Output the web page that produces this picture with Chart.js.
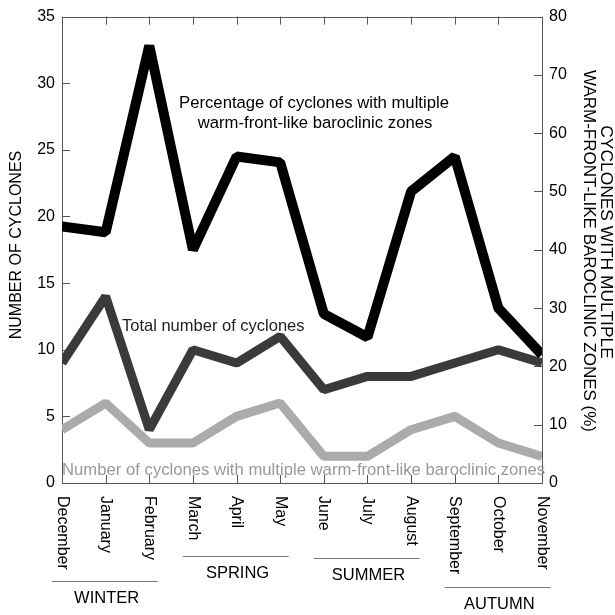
<!DOCTYPE html>
<html>
<head>
<meta charset="utf-8">
<script src="https://cdn.jsdelivr.net/npm/chart.js@4"></script>
<style>
  html, body { margin: 0; padding: 0; background: #fff; }
  #wrap { width: 615px; height: 615px; }
</style>
</head>
<body>
<div id="wrap"><canvas id="c" width="615" height="615"></canvas></div>
<script>
// ---- data ----
const months = ['December','January','February','March','April','May','June','July','August','September','October','November'];
const totalCyclones    = [9, 14, 4, 10, 9, 11, 7, 8, 8, 9, 10, 9];
const multipleCyclones = [4, 6, 3, 3, 5, 6, 2, 2, 4, 5, 3, 2];
const percentMultiple  = [44, 43, 75, 40, 56, 55, 29, 25, 50, 56, 30, 22];
const seasons = ['WINTER', 'SPRING', 'SUMMER', 'AUTUMN'];
const seasonMonths = [[0, 2], [3, 5], [6, 8], [9, 11]];
const leftTitle = 'NUMBER OF CYCLONES';
const rightTitle = ['CYCLONES WITH MULTIPLE', 'WARM-FRONT-LIKE BAROCLINIC ZONES (%)'];
const pctLabel = ['Percentage of cyclones with multiple', 'warm-front-like baroclinic zones'];
const totalLabel = 'Total number of cyclones';
const multLabel = 'Number of cyclones with multiple warm-front-like baroclinic zones';

const FONT = '"Liberation Sans", Arial, Helvetica, sans-serif';

const deco = {
  id: 'deco',
  beforeDatasetsDraw(chart) {
    const ctx = chart.ctx, ca = chart.chartArea;
    const xs = chart.scales.x, yl = chart.scales.y, yr = chart.scales.y1;
    ctx.save();
    ctx.strokeStyle = '#555';
    ctx.lineWidth = 1;
    ctx.strokeRect(Math.round(ca.left) + 0.5, Math.round(ca.top) + 0.5,
                   Math.round(ca.right - ca.left), Math.round(ca.bottom - ca.top));
    ctx.beginPath();
    for (let v = 0; v <= 35; v += 5) {
      const y = Math.round(yl.getPixelForValue(v)) + 0.5;
      ctx.moveTo(ca.left, y); ctx.lineTo(ca.left + 8, y);
    }
    for (let v = 0; v <= 80; v += 10) {
      const y = Math.round(yr.getPixelForValue(v)) + 0.5;
      ctx.moveTo(ca.right - 8, y); ctx.lineTo(ca.right, y);
    }
    months.forEach((m, i) => {
      const x = Math.round(xs.getPixelForValue(i)) + 0.5;
      ctx.moveTo(x, ca.bottom); ctx.lineTo(x, ca.bottom - 8);
      ctx.moveTo(x, ca.top); ctx.lineTo(x, ca.top + 8);
    });
    ctx.stroke();
    ctx.restore();
  },
  afterDatasetsDraw(chart) {
    const ctx = chart.ctx;
    ctx.save();
    ctx.textBaseline = 'middle';
    ctx.textAlign = 'center';
    ctx.fillStyle = '#000';
    ctx.font = '16.7px ' + FONT;
    ctx.fillText(pctLabel[0], 314, 103);
    ctx.fillText(pctLabel[1], 315, 123);
    ctx.textAlign = 'left';
    ctx.fillStyle = '#222';
    ctx.font = '16.5px ' + FONT;
    ctx.fillText(totalLabel, 122, 326);
    ctx.fillStyle = '#999';
    ctx.font = '16.7px ' + FONT;
    ctx.fillText(multLabel, 62, 470);
    ctx.restore();
  },
  afterDraw(chart) {
    const ctx = chart.ctx, xs = chart.scales.x;
    ctx.save();
    ctx.fillStyle = '#000';
    // month labels, rotated clockwise
    ctx.font = '16px ' + FONT;
    ctx.textAlign = 'left';
    ctx.textBaseline = 'middle';
    months.forEach((m, i) => {
      const x = xs.getPixelForValue(i);
      ctx.save();
      ctx.translate(x, 496);
      ctx.rotate(Math.PI / 2);
      ctx.fillText(m, 0, 0);
      ctx.restore();
    });
    // seasons
    const lineY = [581, 556, 558, 587];
    ctx.font = '16.5px ' + FONT;
    ctx.textAlign = 'center';
    seasons.forEach((s, k) => {
      const [a, b] = seasonMonths[k];
      const x0 = xs.getPixelForValue(a) - 10, x1 = xs.getPixelForValue(b) + 8.5;
      ctx.strokeStyle = '#777';
      ctx.lineWidth = 1;
      ctx.beginPath();
      ctx.moveTo(x0, lineY[k] + 0.5); ctx.lineTo(x1, lineY[k] + 0.5);
      ctx.stroke();
      ctx.fillText(s, xs.getPixelForValue((a + b) / 2) + 1, lineY[k] + 17);
    });
    // left axis title
    ctx.font = '16px ' + FONT;
    ctx.save();
    ctx.translate(17, 245);
    ctx.rotate(-Math.PI / 2);
    ctx.fillText(leftTitle, 0, 0);
    ctx.restore();
    // right axis title
    ctx.save();
    ctx.font = '17.4px ' + FONT;
    ctx.translate(606, 242);
    ctx.rotate(Math.PI / 2);
    ctx.fillText(rightTitle[0], 0, 0);
    ctx.restore();
    ctx.save();
    ctx.font = '17px ' + FONT;
    ctx.translate(589, 251);
    ctx.rotate(Math.PI / 2);
    ctx.fillText(rightTitle[1], 0, 0);
    ctx.restore();
    ctx.restore();
  }
};

new Chart(document.getElementById('c'), {
  type: 'line',
  data: {
    labels: months,
    datasets: [
      { label: 'Percentage', data: percentMultiple, yAxisID: 'y1', borderColor: '#000', borderWidth: 10, order: 0 },
      { label: 'Total', data: totalCyclones, yAxisID: 'y', borderColor: '#3a3a3a', borderWidth: 9, order: 1 },
      { label: 'Multiple', data: multipleCyclones, yAxisID: 'y', borderColor: '#ababab', borderWidth: 9, order: 2 }
    ]
  },
  options: {
    responsive: false,
    devicePixelRatio: 1,
    animation: false,
    layout: { padding: { top: 14, left: 0, right: 0, bottom: 0 } },
    elements: {
      point: { radius: 0, hoverRadius: 0 },
      line: { tension: 0, borderJoinStyle: 'bevel', borderCapStyle: 'butt', fill: false }
    },
    datasets: { line: { clip: 0 } },
    plugins: { legend: { display: false }, tooltip: { enabled: false }, title: { display: false } },
    scales: {
      x: {
        type: 'category', offset: false,
        grid: { display: false }, border: { display: false },
        ticks: { display: false },
        afterFit: s => { s.height = 132; }
      },
      y: {
        position: 'left', min: 0, max: 35,
        grid: { display: false, drawTicks: false }, border: { display: false },
        ticks: { stepSize: 5, padding: 7, color: '#000', font: { size: 16, family: FONT } },
        afterFit: s => { s.width = 62; }
      },
      y1: {
        position: 'right', min: 0, max: 80,
        grid: { display: false, drawTicks: false }, border: { display: false },
        ticks: { stepSize: 10, padding: 7, color: '#000', font: { size: 16, family: FONT } },
        afterFit: s => { s.width = 73; }
      }
    }
  },
  plugins: [deco]
});
</script>
</body>
</html>
